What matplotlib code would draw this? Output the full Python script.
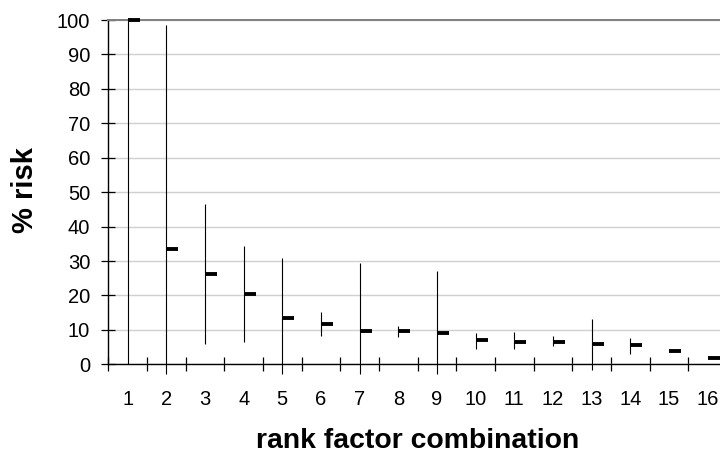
import matplotlib
matplotlib.use("Agg")
import matplotlib.pyplot as plt

plt.rcParams['font.family'] = ['Liberation Sans', 'DejaVu Sans']

categories = [str(i) for i in range(1, 17)]
high = [100, 98.5, 46.5, 34.4, 30.9, 15.2, 29.3, 11.1, 27.0, 9.2, 9.3, 8.2, 13.3, 7.5, 3.9, 1.9]
low = [0, -2.7, 6.0, 6.6, -2.7, 8.3, -2.7, 7.9, -2.7, 4.3, 4.3, 5.3, -1.7, 3.1, 3.9, 1.9]
close = [100, 33.4, 26.3, 20.4, 13.4, 11.8, 9.8, 9.8, 9.1, 7.1, 6.6, 6.6, 5.9, 5.5, 3.9, 1.9]
yticks = list(range(0, 101, 10))

fig = plt.figure(figsize=(7.2, 4.53), dpi=100)
ax = fig.add_axes([0.1504, 0.1958, 0.8593, 0.760])

x = list(range(1, len(categories) + 1))
ax.vlines(x, low, high, colors='black', linewidth=0.8, clip_on=False, zorder=3)
ax.hlines(close, [v for v in x], [v + 0.31 for v in x], colors='black',
          linewidth=2.8, capstyle='butt', clip_on=False, zorder=4)

ax.set_xlim(0.5, len(categories) + 0.5)
ax.set_ylim(0, 100)
ax.set_yticks(yticks)
ax.set_yticklabels([str(t) for t in yticks])

# category boundary ticks (major), labels at centers (minor)
ax.set_xticks([v + 0.5 for v in range(0, len(categories) + 1)])
ax.set_xticklabels([])
ax.set_xticks(x, minor=True)
ax.set_xticklabels(categories, minor=True)
ax.tick_params(axis='x', which='major', direction='inout', length=9.5, width=0.9, color='black')
ax.tick_params(axis='x', which='minor', length=0, pad=18.2, labelsize=14.5)
ax.tick_params(axis='y', direction='inout', length=10, width=0.9, pad=8, labelsize=14.5)

ax.yaxis.grid(True, color='#d0d0d0', linewidth=1.0)
ax.set_axisbelow(True)
for s in ['right']:
    ax.spines[s].set_visible(False)
ax.spines['top'].set_color('#7f7f7f')
ax.spines['top'].set_linewidth(1.4)
ax.spines['left'].set_linewidth(1.0)
ax.spines['bottom'].set_linewidth(1.0)

fig.text(0.5799, 4.5 / 453, 'rank factor combination', ha='center', va='baseline',
         fontsize=20.4, fontweight='bold')
fig.text(33 / 720, 0.5806, '% risk', ha='center', va='baseline', rotation=90,
         rotation_mode='anchor', fontsize=21, fontweight='bold')

fig.savefig('out.png', dpi=100)
